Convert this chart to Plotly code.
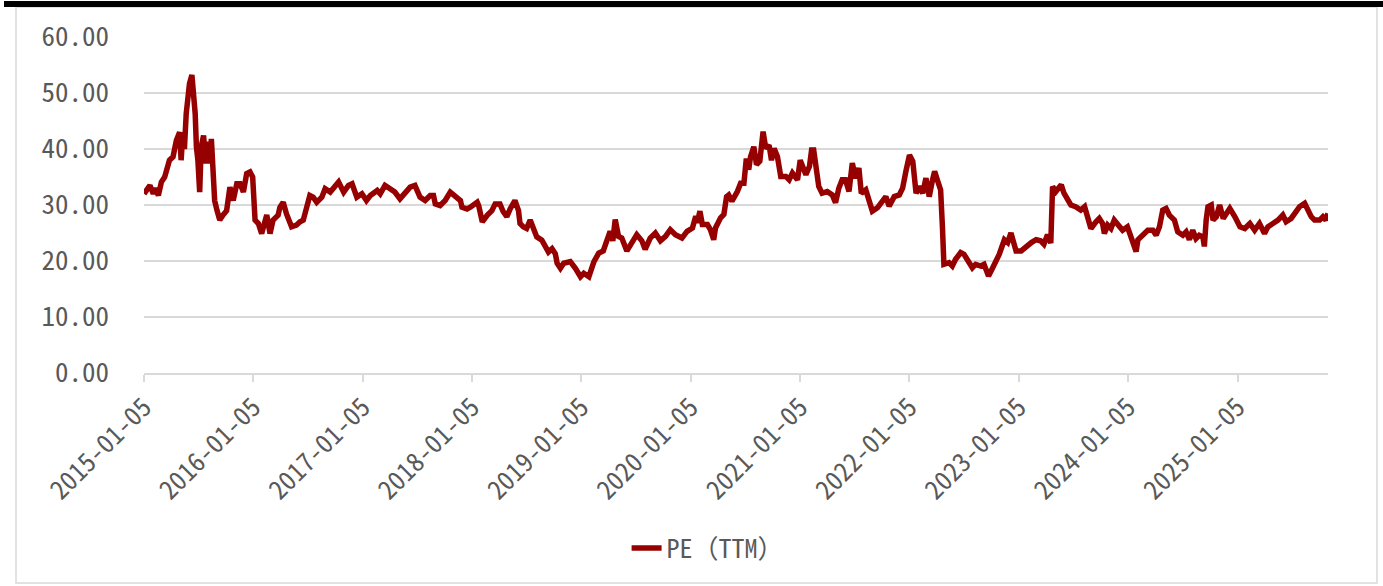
import plotly.graph_objects as go

# PE (TTM) series
dates = [
    "2015-01-05", "2015-01-25", "2015-02-05", "2015-02-11", "2015-02-22", "2015-03-04", "2015-03-15", "2015-03-20",
    "2015-03-31", "2015-04-12", "2015-04-23", "2015-05-04", "2015-05-09", "2015-05-15", "2015-05-20", "2015-05-26",
    "2015-05-31", "2015-06-06", "2015-06-14", "2015-06-21", "2015-06-25", "2015-06-29", "2015-07-04", "2015-07-10",
    "2015-07-15", "2015-07-23", "2015-07-30", "2015-08-07", "2015-08-13", "2015-08-18", "2015-08-24", "2015-08-29",
    "2015-09-06", "2015-09-15", "2015-09-26", "2015-10-08", "2015-10-19", "2015-10-30", "2015-11-11", "2015-11-22",
    "2015-12-03", "2015-12-14", "2015-12-25",
    "2016-01-03", "2016-01-11", "2016-01-22", "2016-02-02", "2016-02-19", "2016-03-01", "2016-03-11", "2016-03-28",
    "2016-04-03", "2016-04-14", "2016-04-25", "2016-05-12", "2016-05-28", "2016-06-09", "2016-06-20", "2016-06-26",
    "2016-07-06", "2016-07-12", "2016-07-23", "2016-08-04", "2016-08-21", "2016-09-01", "2016-09-18", "2016-09-29",
    "2016-10-16", "2016-11-02", "2016-11-18", "2016-11-30", "2016-12-16",
    "2017-01-02", "2017-01-17", "2017-01-30", "2017-02-22", "2017-03-04", "2017-03-20", "2017-04-06", "2017-04-22",
    "2017-05-09", "2017-05-25", "2017-06-12", "2017-06-28", "2017-07-15", "2017-08-01", "2017-08-18", "2017-08-29",
    "2017-09-04", "2017-09-20", "2017-10-07", "2017-10-24", "2017-11-10", "2017-11-27", "2017-12-02", "2017-12-19",
    "2017-12-30",
    "2018-01-22", "2018-01-27", "2018-02-08", "2018-02-25", "2018-03-12", "2018-03-23", "2018-04-08", "2018-04-19",
    "2018-05-01", "2018-05-12", "2018-05-22", "2018-05-28", "2018-06-09", "2018-06-14", "2018-06-25", "2018-07-06",
    "2018-07-18", "2018-07-29", "2018-08-09", "2018-08-26", "2018-09-06", "2018-09-17", "2018-09-29", "2018-10-10",
    "2018-10-16", "2018-10-27", "2018-11-07", "2018-11-29", "2018-12-16",
    "2019-01-02", "2019-01-13", "2019-01-30", "2019-02-16", "2019-03-04", "2019-03-19", "2019-03-31", "2019-04-11",
    "2019-04-20", "2019-04-28", "2019-05-09", "2019-05-20", "2019-06-06", "2019-06-23", "2019-07-09", "2019-07-26",
    "2019-08-06", "2019-08-23", "2019-09-09", "2019-09-26", "2019-10-13", "2019-10-29", "2019-11-15", "2019-12-07",
    "2019-12-24",
    "2020-01-11", "2020-01-22", "2020-01-27", "2020-02-05", "2020-02-13", "2020-03-01", "2020-03-11", "2020-03-22",
    "2020-03-28", "2020-04-14", "2020-04-25", "2020-05-04", "2020-05-11", "2020-05-22", "2020-06-09", "2020-06-20",
    "2020-07-01", "2020-07-09", "2020-07-17", "2020-07-23", "2020-08-03", "2020-08-12", "2020-08-23", "2020-09-03",
    "2020-09-12", "2020-09-23", "2020-10-01", "2020-10-10", "2020-10-21", "2020-11-01", "2020-11-18", "2020-11-29",
    "2020-12-10", "2020-12-27",
    "2021-01-05", "2021-01-13", "2021-01-24", "2021-02-05", "2021-02-12", "2021-02-19", "2021-02-27", "2021-03-08",
    "2021-03-19", "2021-04-05", "2021-04-22", "2021-05-03", "2021-05-14", "2021-05-25", "2021-06-05", "2021-06-17",
    "2021-06-28", "2021-07-09", "2021-07-20", "2021-07-28", "2021-08-12", "2021-08-23", "2021-09-03", "2021-09-20",
    "2021-10-07", "2021-10-18", "2021-10-29", "2021-11-15", "2021-12-02", "2021-12-13", "2021-12-24",
    "2022-01-05", "2022-01-16", "2022-01-27", "2022-02-07", "2022-02-18", "2022-03-01", "2022-03-12", "2022-03-23",
    "2022-03-30", "2022-04-08", "2022-04-19", "2022-04-25", "2022-04-30", "2022-05-17", "2022-05-28", "2022-06-08",
    "2022-06-25", "2022-07-06", "2022-07-22", "2022-08-03", "2022-08-14", "2022-08-31", "2022-09-11", "2022-09-26",
    "2022-10-10", "2022-10-21", "2022-11-01", "2022-11-18", "2022-11-29", "2022-12-10", "2022-12-27",
    "2023-01-13", "2023-01-30", "2023-02-16", "2023-03-04", "2023-03-19", "2023-03-30", "2023-04-11", "2023-04-22",
    "2023-04-28", "2023-05-09", "2023-05-20", "2023-05-27", "2023-06-05", "2023-06-17", "2023-06-28", "2023-07-14",
    "2023-07-31", "2023-08-13", "2023-08-22", "2023-09-03", "2023-09-20", "2023-10-01", "2023-10-12", "2023-10-18",
    "2023-10-29", "2023-11-09", "2023-11-20", "2023-12-07", "2023-12-18",
    "2024-01-03", "2024-01-10", "2024-01-21", "2024-02-01", "2024-02-07", "2024-02-24", "2024-03-11", "2024-03-28",
    "2024-04-08", "2024-04-19", "2024-04-30", "2024-05-11", "2024-05-22", "2024-06-08", "2024-06-19", "2024-07-06",
    "2024-07-17", "2024-07-28", "2024-08-08", "2024-08-19", "2024-08-30", "2024-09-11", "2024-09-16", "2024-09-22",
    "2024-09-28", "2024-10-09", "2024-10-15", "2024-10-26", "2024-11-06", "2024-11-18", "2024-11-29", "2024-12-10",
    "2024-12-27",
    "2025-01-13", "2025-01-29", "2025-02-15", "2025-03-03", "2025-03-19", "2025-04-05", "2025-04-16", "2025-05-03",
    "2025-05-20", "2025-06-05", "2025-06-16", "2025-07-03", "2025-07-20", "2025-07-31", "2025-08-17", "2025-08-28",
    "2025-09-08", "2025-09-19", "2025-10-06", "2025-10-17", "2025-10-27", "2025-11-03",
]

pe_ttm = [
    32.0, 33.5, 32.0, 33.0, 31.7, 34.1, 35.0, 35.9,
    38.0, 38.6, 41.5, 43.0, 38.0, 43.0, 40.0, 46.3,
    49.9, 51.7, 53.2, 49.9, 46.3, 40.4, 38.0, 32.3,
    40.4, 42.4, 37.4, 41.3, 37.4, 41.8, 36.2, 30.8,
    29.0, 27.3, 28.2, 29.0, 33.2, 30.8, 33.8, 33.8,
    32.3, 35.6, 35.9,
    35.0, 27.3, 26.7, 24.9, 28.2, 24.9, 27.3, 28.2,
    29.6, 30.5, 28.4, 26.1, 26.4, 27.0, 27.3, 28.5,
    30.2, 31.7, 31.4, 30.5, 31.4, 32.9, 32.3, 32.9,
    34.1, 32.3, 33.5, 33.8, 31.4,
    32.0, 30.8, 31.7, 32.6, 32.0, 33.5, 32.9, 32.3,
    31.1, 32.0, 33.2, 33.5, 31.4, 30.8, 31.7, 31.7,
    30.2, 29.9, 30.8, 32.3, 31.4, 30.8, 29.6, 29.3,
    29.6,
    30.5, 29.9, 27.0, 28.2, 29.0, 30.2, 30.2, 28.8,
    27.9, 29.3, 30.5, 30.8, 29.0, 26.7, 26.1, 25.8,
    27.3, 25.8, 24.3, 23.7, 22.5, 21.6, 22.2, 21.3,
    19.6, 18.7, 19.6, 19.9, 18.7,
    17.2, 17.8, 17.2, 19.9, 21.4, 21.8, 23.8, 25.3,
    23.6, 27.4, 24.4, 24.1, 21.8, 23.3, 24.7, 23.6,
    22.1, 24.1, 25.0, 23.6, 24.4, 25.6, 24.7, 24.1,
    25.3,
    25.9, 28.0, 26.8, 28.9, 26.5, 26.5, 25.6, 23.8,
    25.9, 27.7, 28.3, 31.5, 31.8, 30.7, 32.4, 33.9,
    33.9, 38.3, 36.3, 38.6, 40.4, 37.2, 37.8, 43.1,
    40.1, 40.7, 38.0, 40.1, 38.6, 35.1, 35.1, 34.5,
    35.7, 34.5,
    38.0, 36.9, 35.4, 36.9, 39.8, 39.8, 36.6, 33.3,
    32.1, 32.4, 31.8, 30.4, 33.0, 34.5, 34.5, 32.4,
    37.5, 34.8, 36.6, 32.1, 32.7, 30.9, 28.9, 29.5,
    30.7, 31.5, 29.8, 31.5, 31.8, 33.0, 36.0,
    38.9, 37.8, 32.1, 33.3, 32.1, 34.8, 31.5, 34.5,
    36.0, 34.5, 32.7, 26.2, 19.4, 19.7, 19.1, 20.3,
    21.5, 21.2, 19.7, 18.8, 19.4, 19.1, 19.4, 17.3,
    18.8, 20.0, 21.2, 23.8, 23.3, 25.0, 21.8,
    21.8, 22.7, 23.3, 23.8, 23.6, 23.0, 24.7, 23.2,
    33.3, 32.4, 33.0, 33.6, 32.1, 30.9, 30.0, 29.7,
    29.1, 29.7, 27.9, 25.8, 27.0, 27.6, 26.7, 24.9,
    26.4, 25.8, 27.3, 26.4, 25.5,
    26.1, 24.9, 23.8, 21.7, 23.8, 24.6, 25.5, 25.5,
    24.6, 26.1, 29.1, 29.4, 28.2, 27.3, 25.2, 24.6,
    25.2, 23.8, 25.5, 24.0, 24.6, 24.3, 22.6, 27.3,
    29.7, 30.0, 27.3, 27.9, 30.0, 27.6, 28.5, 29.4,
    27.9,
    26.1, 25.8, 26.7, 25.5, 26.7, 24.9, 26.1, 26.7,
    27.3, 28.2, 27.0, 27.6, 29.1, 29.7, 30.3, 29.1,
    27.9, 27.3, 27.3, 27.9, 27.3, 28.5,
]

tick_dates = [
    "2015-01-05", "2016-01-05", "2017-01-05", "2018-01-05", "2019-01-05", "2020-01-05",
    "2021-01-05", "2022-01-05", "2023-01-05", "2024-01-05", "2025-01-05",
]

assert len(dates) == len(pe_ttm)

W, H = 1383, 586
ML, MR, MT, MB = 144, 55, 37, 213
FONT = "Noto Sans Mono CJK SC, Noto Sans CJK SC, sans-serif"
GREY_TXT = "#595959"
GRID = "#d9d9d9"


def px_x(x):
    return (x - ML) / (W - ML - MR)


def px_y(y):
    return (H - MB - y) / (H - MT - MB)


fig = go.Figure(go.Scatter(
    x=dates, y=pe_ttm, mode="lines", name="PE（TTM）",
    line=dict(color="#960000", width=5.5),
))

fig.update_layout(
    width=W, height=H,
    margin=dict(l=ML, r=MR, t=MT, b=MB, pad=0),
    paper_bgcolor="white", plot_bgcolor="white",
    font=dict(family=FONT, color=GREY_TXT, size=26),
    showlegend=True,
    legend=dict(
        orientation="h", xref="container", yref="container",
        x=0.512, xanchor="center", y=1 - 548 / H, yanchor="middle",
        font=dict(size=26, color=GREY_TXT), bgcolor="rgba(0,0,0,0)",
    ),
    shapes=[
        # light grey chart frame
        dict(type="rect", xref="paper", yref="paper",
             x0=px_x(16), x1=px_x(1377), y0=px_y(583), y1=px_y(7),
             line=dict(color=GRID, width=1.5), fillcolor="rgba(0,0,0,0)", layer="below"),
        # black bar along the top
        dict(type="rect", xref="paper", yref="paper",
             x0=px_x(4), x1=px_x(1383), y0=px_y(7), y1=px_y(1),
             line=dict(width=0), fillcolor="black"),
    ],
)

fig.update_xaxes(
    type="date", range=[dates[0], dates[-1]], automargin=False,
    showgrid=False, zeroline=False,
    showline=True, linecolor=GRID, linewidth=1.5,
    ticks="outside", ticklen=7, tickwidth=1.5, tickcolor=GRID,
    tickvals=tick_dates, ticktext=tick_dates, tickangle=-45,
    tickfont=dict(size=26, color=GREY_TXT),
)

fig.update_yaxes(
    range=[0, 60], dtick=10, tickformat=".2f", automargin=False,
    showgrid=True, gridcolor=GRID, gridwidth=1.5,
    showline=False, zeroline=False,
    ticks="", ticklabelstandoff=34,
    tickfont=dict(size=27, color=GREY_TXT),
)

# the page's default body margin would shift the figure by 8px
fig.write_html("out.html", config={"displayModeBar": False},
               post_script="document.body.style.margin='0';")
